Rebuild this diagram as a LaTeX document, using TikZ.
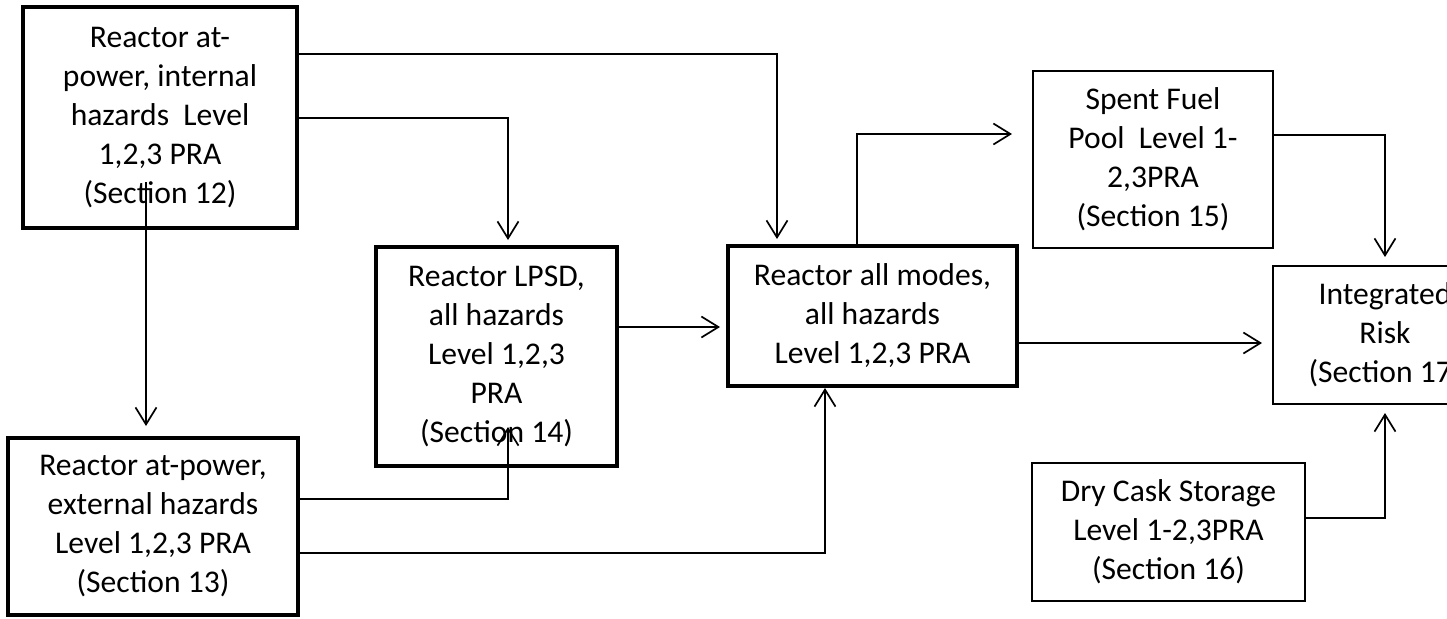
\documentclass[tikz,border=0pt]{standalone}
\usepackage{fontspec}
\setmainfont{Carlito}
\usetikzlibrary{arrows.meta}

\begin{document}
\begin{tikzpicture}[x=0.5pt,y=-0.5pt,
	every node/.style={black,font=\fontsize{15.8}{19.5}\selectfont,align=center,inner sep=2pt},
	heavybox/.style={draw,line width=2pt},
	lightbox/.style={draw,line width=1pt},
	link/.style={line width=0.85pt,-{Straight Barb[length=8.5pt,width=10.5pt]},shorten >=2.5pt}]
	\useasboundingbox (0,0) rectangle (1447,618);
	\clip (0,0) rectangle (1447,618);

	\node[heavybox,minimum width=137pt,minimum height=110.5pt] (internal) at (160,117.5)
		{Reactor at-\\power, internal\\hazards~ Level\\1,2,3 PRA\\(Section 12)};
	\node[heavybox,minimum width=145pt,minimum height=88.5pt] (external) at (153,526.5)
		{Reactor at-power,\\external hazards\\Level 1,2,3 PRA\\(Section 13)};
	\node[heavybox,minimum width=120.5pt,minimum height=109.5pt] (lpsd) at (496.5,356.5)
		{Reactor LPSD,\\all hazards\\Level 1,2,3\\PRA\\(Section 14)};
	\node[heavybox,minimum width=144.5pt,minimum height=70pt] (allmodes) at (872.5,316)
		{Reactor all modes,\\all hazards\\Level 1,2,3 PRA};
	\node[lightbox,minimum width=120pt,minimum height=88.5pt] (pool) at (1153,159.5)
		{Spent Fuel\\Pool~ Level 1-\\2,3PRA\\(Section 15)};
	\node[lightbox,minimum width=136.5pt,minimum height=69pt] (cask) at (1168.5,532)
		{Dry Cask Storage\\Level 1-2,3PRA\\(Section 16)};
	\node[lightbox,minimum width=112pt,minimum height=69pt] (risk) at (1385,335)
		{Integrated\\Risk\\(Section 17)};

	\coordinate (t1) at (777,54);
	\coordinate (t2) at (508,118);
	\coordinate (t3) at (146,182);
	\coordinate (t4) at (508,427);
	\coordinate (t4s) at (0,499);
	\coordinate (t5) at (825,553);
	\coordinate (t6) at (857,134);
	\coordinate (t7) at (1385,135);
	\coordinate (t8) at (1385,518);
	\coordinate (t9) at (0,327);
	\coordinate (t10) at (0,343);

	\draw[link] (internal.east |- t1) -| (allmodes.north -| t1);
	\draw[link] (internal.east |- t2) -| (lpsd.north -| t2);
	\draw[link,shorten >=5pt] (t3) -- (external.north -| t3);
	\draw[link,shorten >=0pt] (external.east |- t4s) -| (t4);
	\draw[link,shorten >=0pt] (external.east |- t5) -| (allmodes.south -| t5);
	\draw[link,shorten >=3pt] (lpsd.east |- t9) -- (allmodes.west |- t9);
	\draw[link,shorten >=10pt] (allmodes.north -| t6) |- (pool.west |- t6);
	\draw[link,shorten >=5pt] (allmodes.east |- t10) -- (risk.west |- t10);
	\draw[link,shorten >=4pt] (pool.east |- t7) -| (risk.north -| t7);
	\draw[link,shorten >=4pt] (cask.east |- t8) -| (risk.south -| t8);
\end{tikzpicture}
\end{document}
